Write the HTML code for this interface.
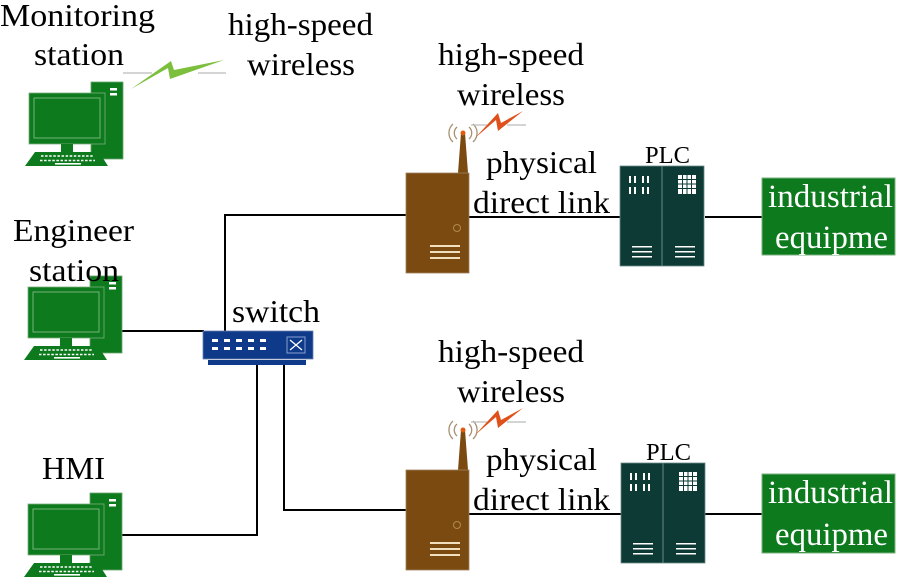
<!DOCTYPE html>
<html><head><meta charset="utf-8"><style>
html,body{margin:0;padding:0;background:#fff;}
svg{display:block;}
text{font-family:"Liberation Serif",serif;fill:#000;}
</style></head><body>
<svg width="905" height="583" viewBox="0 0 905 583" xmlns="http://www.w3.org/2000/svg">
<defs>
<g id="pc">
  <rect x="62" y="0" width="32" height="77" fill="#0e7a1e" stroke="#6aa56f" stroke-width="0.8"/>
  <rect x="81" y="6" width="7" height="2.5" fill="#fff"/>
  <rect x="81" y="11" width="7" height="2.5" fill="#fff"/>
  <rect x="0" y="11" width="76" height="51" fill="#0e7a1e" stroke="#7ab07e" stroke-width="0.8"/>
  <rect x="5" y="16" width="66" height="40" fill="#0e7a1e" stroke="#8cc08f" stroke-width="0.8"/>
  <rect x="32" y="62" width="12" height="8" fill="#0e7a1e"/>
  <polygon points="6,70 70,70 79,84 -4,84" fill="#0e7a1e"/>
  <line x1="12" y1="74" x2="64" y2="74" stroke="#fff" stroke-width="1.6" stroke-dasharray="2.5 1.6"/>
  <line x1="11" y1="78.5" x2="66" y2="78.5" stroke="#fff" stroke-width="1.6" stroke-dasharray="2.5 1.6"/>
  <rect x="26" y="81" width="26" height="1.6" fill="#fff"/>
</g>
<g id="router">
  <polygon points="55,0 59,0 62,40 52,40" fill="#7a4a10"/>
  <circle cx="57" cy="0" r="2.5" fill="#e05a10"/>
  <path d="M51,-6 a8,8 0 0 0 0,12 M63,-6 a8,8 0 0 1 0,12 M47,-9 a12,12 0 0 0 0,18 M67,-9 a12,12 0 0 1 0,18" fill="none" stroke="#a89070" stroke-width="1.3"/>
  <rect x="0" y="40" width="63" height="100" fill="#7a4a10" stroke="#a08060" stroke-width="0.8"/>
  <circle cx="51" cy="95" r="3.5" fill="none" stroke="#b08a50" stroke-width="1"/>
  <rect x="24" y="112" width="30" height="2" fill="#f0e0c0"/>
  <rect x="24" y="118" width="30" height="2" fill="#f0e0c0"/>
  <rect x="24" y="124" width="30" height="2" fill="#f0e0c0"/>
</g>
<g id="plc">
  <rect x="0" y="0" width="84" height="100" fill="#0e3a36" stroke="#6a8a88" stroke-width="0.8"/>
  <line x1="42" y1="0" x2="42" y2="100" stroke="#6a8a88" stroke-width="1"/>
  <g fill="#fff">
    <rect x="9" y="10" width="2" height="7"/><rect x="14" y="10" width="2" height="7"/><rect x="22" y="10" width="2" height="7"/><rect x="27" y="10" width="2" height="7"/>
    <rect x="9" y="21" width="2" height="7"/><rect x="14" y="21" width="2" height="7"/><rect x="22" y="21" width="2" height="7"/><rect x="27" y="21" width="2" height="7"/>
    <rect x="58" y="9" width="18" height="19"/>
    <rect x="12" y="80" width="20" height="1.5"/><rect x="12" y="85" width="20" height="1.5"/><rect x="12" y="90" width="20" height="1.5"/>
    <rect x="55" y="80" width="20" height="1.5"/><rect x="55" y="85" width="20" height="1.5"/><rect x="55" y="90" width="20" height="1.5"/>
  </g>
  <g stroke="#0e3a36" stroke-width="1"><line x1="62.5" y1="9" x2="62.5" y2="28"/><line x1="67" y1="9" x2="67" y2="28"/><line x1="71.5" y1="9" x2="71.5" y2="28"/><line x1="58" y1="13.5" x2="76" y2="13.5"/><line x1="58" y1="18" x2="76" y2="18"/><line x1="58" y1="22.5" x2="76" y2="22.5"/></g>
</g>
</defs>

<g stroke="#000" stroke-width="2" fill="none">
  <polyline points="225,331 225,215 407,215"/>
  <line x1="122" y1="331" x2="204" y2="331"/>
  <polyline points="257,360 257,535 122,535"/>
  <polyline points="284,360 284,510 407,510"/>
  <line x1="469" y1="217" x2="621" y2="217"/>
  <line x1="705" y1="217" x2="762" y2="217"/>
  <line x1="469" y1="514" x2="621" y2="514"/>
  <line x1="705" y1="514" x2="762" y2="514"/>
</g>

<use href="#pc" x="29" y="82"/>
<use href="#pc" x="28" y="276"/>
<use href="#pc" x="28" y="493"/>

<rect x="203" y="331" width="110" height="28" fill="#0f3a8a" stroke="#6a80b0" stroke-width="0.8"/>
<rect x="208" y="360" width="98" height="5" fill="#0f3a8a"/>
<g fill="#fff">
  <rect x="212" y="339" width="6" height="3"/><rect x="224" y="339" width="6" height="3"/><rect x="236" y="339" width="6" height="3"/><rect x="248" y="339" width="6" height="3"/><rect x="260" y="339" width="6" height="3"/>
  <rect x="212" y="347" width="6" height="3"/><rect x="224" y="347" width="6" height="3"/><rect x="236" y="347" width="6" height="3"/><rect x="248" y="347" width="6" height="3"/><rect x="260" y="347" width="6" height="3"/>
</g>
<rect x="287" y="337" width="18" height="16" fill="none" stroke="#8aa0d0" stroke-width="1"/>
<path d="M290,340 L302,350 M290,350 L302,340" stroke="#fff" stroke-width="1.3"/>

<use href="#router" x="406" y="133"/>
<use href="#router" x="406" y="430"/>

<use href="#plc" x="620" y="166"/>
<use href="#plc" x="621" y="463"/>

<rect x="762" y="178" width="133" height="77" fill="#0e7a1e" stroke="#7ab07e" stroke-width="1"/>
<rect x="762" y="474" width="133" height="79" fill="#0e7a1e" stroke="#7ab07e" stroke-width="1"/>
<g font-size="33" style="fill:#fff">
<text x="768" y="207" textLength="125" lengthAdjust="spacingAndGlyphs" style="fill:#fff">industrial</text>
<text x="775" y="248" textLength="113" lengthAdjust="spacingAndGlyphs" style="fill:#fff">equipme</text>
<text x="768" y="503" textLength="125" lengthAdjust="spacingAndGlyphs" style="fill:#fff">industrial</text>
<text x="775" y="545" textLength="113" lengthAdjust="spacingAndGlyphs" style="fill:#fff">equipme</text>
</g>

<line x1="123" y1="73" x2="152" y2="73" stroke="#bbb" stroke-width="1.2"/>
<line x1="198" y1="73" x2="226" y2="73" stroke="#bbb" stroke-width="1.2"/>
<polygon points="131,89 168,68 170,79 224,60 174,70 171,61" fill="#7cbf3c"/>
<line x1="471" y1="125" x2="487" y2="125" stroke="#bbb" stroke-width="1.2"/>
<line x1="507" y1="125" x2="526" y2="125" stroke="#bbb" stroke-width="1.2"/>
<polygon points="475,138 496,120 498,131 523,111 501,123 498,113" fill="#e0501a"/>
<line x1="471" y1="422" x2="487" y2="422" stroke="#bbb" stroke-width="1.2"/>
<line x1="507" y1="422" x2="526" y2="422" stroke="#bbb" stroke-width="1.2"/>
<polygon points="475,435 496,417 498,428 523,408 501,420 498,410" fill="#e0501a"/>

<g font-size="32">
<text x="0" y="26" textLength="155" lengthAdjust="spacingAndGlyphs">Monitoring</text>
<text x="34" y="65" textLength="90" lengthAdjust="spacingAndGlyphs">station</text>
<text x="228" y="35" textLength="145" lengthAdjust="spacingAndGlyphs">high-speed</text>
<text x="247" y="75" textLength="108" lengthAdjust="spacingAndGlyphs">wireless</text>
<text x="438" y="65" textLength="146" lengthAdjust="spacingAndGlyphs">high-speed</text>
<text x="457" y="105" textLength="108" lengthAdjust="spacingAndGlyphs">wireless</text>
<text x="486" y="173" textLength="111" lengthAdjust="spacingAndGlyphs">physical</text>
<text x="473" y="213" textLength="137" lengthAdjust="spacingAndGlyphs">direct link</text>
<text x="13" y="241" textLength="121" lengthAdjust="spacingAndGlyphs">Engineer</text>
<text x="29" y="281" textLength="90" lengthAdjust="spacingAndGlyphs">station</text>
<text x="232" y="322" textLength="88" lengthAdjust="spacingAndGlyphs">switch</text>
<text x="42" y="479" textLength="63" lengthAdjust="spacingAndGlyphs">HMI</text>
<text x="438" y="362" textLength="146" lengthAdjust="spacingAndGlyphs">high-speed</text>
<text x="457" y="402" textLength="108" lengthAdjust="spacingAndGlyphs">wireless</text>
<text x="486" y="470" textLength="111" lengthAdjust="spacingAndGlyphs">physical</text>
<text x="473" y="510" textLength="137" lengthAdjust="spacingAndGlyphs">direct link</text>
</g>
<text x="645" y="163" font-size="24" textLength="45" lengthAdjust="spacingAndGlyphs">PLC</text>
<text x="646" y="460" font-size="24" textLength="45" lengthAdjust="spacingAndGlyphs">PLC</text>
</svg>
</body></html>
